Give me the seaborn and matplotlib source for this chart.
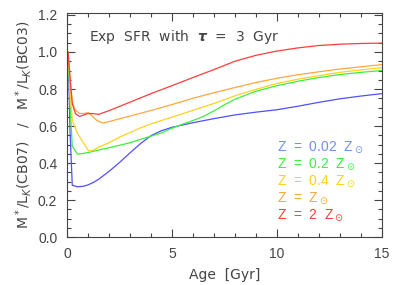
import matplotlib
matplotlib.use("Agg")
import matplotlib.pyplot as plt
import seaborn as sns
import pandas as pd
from matplotlib.ticker import MultipleLocator

# Ages [Gyr] and M*/L_K ratios (CB07 / BC03)
age_blue = [0.05, 0.15, 0.25, 0.5, 0.75, 1.0, 1.25, 1.5, 2.0, 2.5, 3.0, 3.5, 4.0, 4.5, 5.0,
            6, 7, 8, 9, 10, 11, 12, 13, 14, 15]
ml_blue = [1.0, 0.55, 0.28, 0.272, 0.274, 0.282, 0.295, 0.312, 0.355, 0.403, 0.455, 0.505,
           0.548, 0.575, 0.593, 0.618, 0.64, 0.66, 0.675, 0.688, 0.707, 0.728, 0.747, 0.762, 0.775]

age_green = [0.05, 0.15, 0.25, 0.5, 0.75, 1.0, 1.5, 2.0, 2.5, 3.0, 3.5, 4.0, 4.5, 5.0, 5.5,
             6.0, 6.5, 7.0, 7.5, 8, 9, 10, 11, 12, 13, 14, 15]
ml_green = [1.0, 0.7, 0.49, 0.448, 0.452, 0.457, 0.47, 0.483, 0.496, 0.51, 0.528, 0.545,
            0.563, 0.588, 0.61, 0.63, 0.652, 0.682, 0.715, 0.745, 0.788, 0.818, 0.842,
            0.862, 0.878, 0.89, 0.90]

age_yellow = [0.05, 0.15, 0.25, 0.5, 0.75, 1.0, 1.1, 1.25, 1.5, 2.0, 2.5, 3.0, 3.5, 4.0, 5,
              6, 7, 8, 9, 10, 11, 12, 13, 14, 15]
ml_yellow = [1.0, 0.78, 0.63, 0.56, 0.515, 0.47, 0.465, 0.47, 0.485, 0.51, 0.54, 0.565, 0.59,
             0.612, 0.648, 0.685, 0.722, 0.763, 0.798, 0.83, 0.853, 0.872, 0.89, 0.903, 0.915]

age_orange = [0.05, 0.15, 0.25, 0.4, 0.6, 0.8, 1.0, 1.2, 1.4, 1.7, 2.0, 2.5, 3.0, 3.5, 4.0,
              5, 6, 7, 8, 9, 10, 11, 12, 13, 14, 15]
ml_orange = [1.0, 0.85, 0.73, 0.685, 0.668, 0.668, 0.672, 0.655, 0.632, 0.616, 0.624, 0.639,
             0.654, 0.669, 0.684, 0.716, 0.75, 0.78, 0.808, 0.835, 0.858, 0.877, 0.893,
             0.908, 0.92, 0.932]

age_red = [0.05, 0.15, 0.25, 0.4, 0.6, 0.8, 1.0, 1.25, 1.5, 2.0, 2.5, 3.0, 3.5, 4.0, 5,
           6, 7, 8, 9, 10, 11, 12, 13, 14, 15]
ml_red = [1.0, 0.85, 0.72, 0.667, 0.652, 0.66, 0.668, 0.667, 0.663, 0.683, 0.706, 0.729,
          0.752, 0.775, 0.818, 0.862, 0.905, 0.95, 0.982, 1.005, 1.022, 1.035, 1.042,
          1.046, 1.048]

labels = [r"Z  =  0.02  Z$_\odot$", r"Z  =  0.2  Z$_\odot$", r"Z  =  0.4  Z$_\odot$",
          r"Z  =  Z$_\odot$", r"Z  =  2  Z$_\odot$"]
colors = ["#5050ff", "#3cf03c", "#ffd21e", "#ffa83c", "#ff3c3c"]
text_colors = ["#7090f0", "#3cf03c", "#ffd21e", "#ffa83c", "#ff3c3c"]

sns.set_style("ticks")
plt.rcParams["font.family"] = ["Liberation Sans", "DejaVu Sans"]

fig = plt.figure(figsize=(3.99, 2.85), dpi=100)
ax = fig.add_axes([0.168, 0.168, 0.789, 0.786])

series = [(age_blue, ml_blue), (age_green, ml_green), (age_yellow, ml_yellow),
          (age_orange, ml_orange), (age_red, ml_red)]
for (a, m), c in zip(series, colors):
    df = pd.DataFrame({"age": a, "ml": m})
    sns.lineplot(data=df, x="age", y="ml", color=c, lw=0.9, ax=ax)

ax.set_xlim(0, 15)
ax.set_ylim(0, 1.21)
ax.xaxis.set_major_locator(MultipleLocator(5))
ax.xaxis.set_minor_locator(MultipleLocator(1))
ax.yaxis.set_major_locator(MultipleLocator(0.2))
ax.yaxis.set_minor_locator(MultipleLocator(0.05))
ax.yaxis.set_major_formatter(matplotlib.ticker.FormatStrFormatter("%.1f"))

dark = "#444444"
ax.tick_params(which="both", direction="in", top=True, right=True, colors=dark,
               labelsize=10, width=0.8)
ax.tick_params(which="major", length=6, pad=7)
ax.tick_params(which="minor", length=3)
for s in ax.spines.values():
    s.set_color(dark)
    s.set_linewidth(0.8)

ax.set_xlabel("Age  [Gyr]", fontsize=10, color=dark, labelpad=5, family="DejaVu Sans")
ax.set_ylabel(r"M$^*$/L$_K$(CB07)   /   M$^*$/L$_K$(BC03)", fontsize=10, color=dark,
              labelpad=3, family="DejaVu Sans")

ax.text(0.07, 0.893, r"Exp  SFR  with  $\boldsymbol{\tau}$  =  3  Gyr", transform=ax.transAxes,
        fontsize=10, color=dark, va="center", family="DejaVu Sans")

for i, (lab, tc) in enumerate(zip(labels, text_colors)):
    ax.text(0.668, 0.40 - i * 0.076, lab, transform=ax.transAxes, fontsize=10, color=tc,
            va="center")

fig.savefig("out.png", dpi=100)
